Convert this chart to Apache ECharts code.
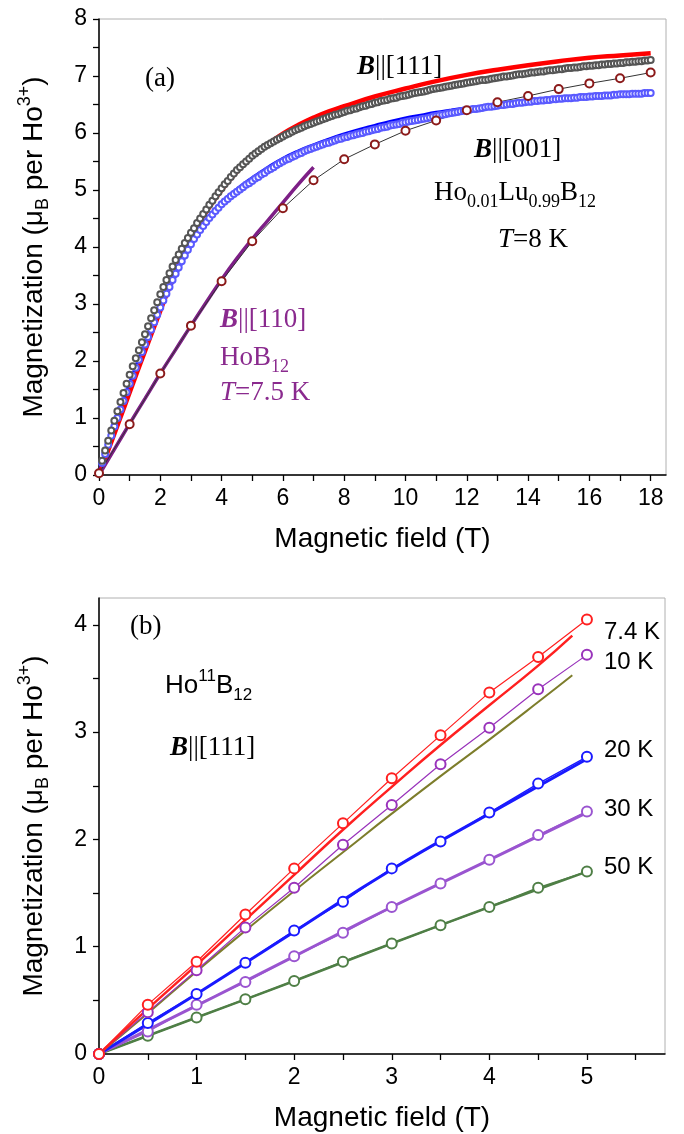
<!DOCTYPE html>
<html>
<head>
<meta charset="utf-8">
<script src="https://cdn.jsdelivr.net/npm/echarts@6/dist/echarts.min.js"></script>
<style>
  html, body { margin: 0; padding: 0; background: #fff; }
  #main { width: 684px; height: 1134px; }
</style>
</head>
<body>
<div id="main"></div>
<script>
// ---- panel (a): Ho0.01Lu0.99B12 at 8 K and HoB12 at 7.5 K ----
var fieldA = [
  0.1, 0.2, 0.3, 0.4, 0.5, 0.6, 0.7, 0.8, 0.9, 1.0,
  1.1, 1.2, 1.3, 1.4, 1.5, 1.6, 1.7, 1.8, 1.9, 2.0,
  2.1, 2.2, 2.3, 2.4, 2.5, 2.6, 2.7, 2.8, 2.9, 3.0,
  3.1, 3.2, 3.3, 3.4, 3.5, 3.6, 3.7, 3.8, 3.9, 4.0,
  4.1, 4.2, 4.3, 4.4, 4.5, 4.6, 4.7, 4.8, 4.9, 5.0,
  5.1, 5.2, 5.3, 5.4, 5.5, 5.6, 5.7, 5.8, 5.9, 6.0,
  6.1, 6.2, 6.3, 6.4, 6.5, 6.6, 6.7, 6.8, 6.9, 7.0,
  7.1, 7.2, 7.3, 7.4, 7.5, 7.6, 7.7, 7.8, 7.9, 8.0,
  8.1, 8.2, 8.3, 8.4, 8.5, 8.6, 8.7, 8.8, 8.9, 9.0,
  9.1, 9.2, 9.3, 9.4, 9.5, 9.6, 9.7, 9.8, 9.9, 10.0,
  10.1, 10.2, 10.3, 10.4, 10.5, 10.6, 10.7, 10.8, 10.9, 11.0,
  11.1, 11.2, 11.3, 11.4, 11.5, 11.6, 11.7, 11.8, 11.9, 12.0,
  12.1, 12.2, 12.3, 12.4, 12.5, 12.6, 12.7, 12.8, 12.9, 13.0,
  13.1, 13.2, 13.3, 13.4, 13.5, 13.6, 13.7, 13.8, 13.9, 14.0,
  14.1, 14.2, 14.3, 14.4, 14.5, 14.6, 14.7, 14.8, 14.9, 15.0,
  15.1, 15.2, 15.3, 15.4, 15.5, 15.6, 15.7, 15.8, 15.9, 16.0,
  16.1, 16.2, 16.3, 16.4, 16.5, 16.6, 16.7, 16.8, 16.9, 17.0,
  17.1, 17.2, 17.3, 17.4, 17.5, 17.6, 17.7, 17.8, 17.9, 18.0
];
// B || [111], open black circles
var mag111 = [
  0.25, 0.43, 0.60, 0.78, 0.95, 1.12, 1.28, 1.44, 1.60, 1.76,
  1.91, 2.05, 2.19, 2.33, 2.47, 2.61, 2.75, 2.89, 3.03, 3.17,
  3.30, 3.42, 3.54, 3.66, 3.77, 3.87, 3.97, 4.07, 4.16, 4.25,
  4.33, 4.42, 4.50, 4.58, 4.66, 4.74, 4.81, 4.89, 4.96, 5.03,
  5.10, 5.16, 5.23, 5.29, 5.35, 5.40, 5.45, 5.50, 5.55, 5.60,
  5.64, 5.68, 5.72, 5.76, 5.79, 5.82, 5.85, 5.88, 5.91, 5.94,
  5.97, 5.99, 6.02, 6.05, 6.07, 6.09, 6.12, 6.14, 6.16, 6.18,
  6.20, 6.22, 6.24, 6.26, 6.28, 6.30, 6.32, 6.33, 6.35, 6.37,
  6.39, 6.40, 6.42, 6.43, 6.45, 6.47, 6.48, 6.50, 6.51, 6.53,
  6.54, 6.56, 6.57, 6.58, 6.60, 6.61, 6.62, 6.64, 6.65, 6.66,
  6.67, 6.69, 6.70, 6.71, 6.72, 6.73, 6.74, 6.76, 6.77, 6.78,
  6.79, 6.80, 6.81, 6.82, 6.83, 6.84, 6.85, 6.86, 6.87, 6.88,
  6.89, 6.90, 6.91, 6.92, 6.93, 6.93, 6.94, 6.95, 6.96, 6.97,
  6.98, 6.99, 6.99, 7.00, 7.01, 7.02, 7.03, 7.03, 7.04, 7.05,
  7.06, 7.06, 7.07, 7.08, 7.08, 7.09, 7.10, 7.10, 7.11, 7.12,
  7.12, 7.13, 7.14, 7.14, 7.15, 7.15, 7.16, 7.17, 7.17, 7.18,
  7.18, 7.19, 7.19, 7.20, 7.20, 7.21, 7.21, 7.22, 7.22, 7.23,
  7.23, 7.24, 7.24, 7.25, 7.25, 7.26, 7.26, 7.27, 7.27, 7.28
];
// B || [001], open blue circles
var mag001 = [
  0.21, 0.37, 0.53, 0.69, 0.85, 1.00, 1.15, 1.30, 1.45, 1.60,
  1.74, 1.88, 2.02, 2.16, 2.29, 2.42, 2.55, 2.68, 2.81, 2.94,
  3.06, 3.18, 3.30, 3.42, 3.53, 3.64, 3.75, 3.85, 3.95, 4.05,
  4.14, 4.22, 4.30, 4.37, 4.44, 4.51, 4.57, 4.63, 4.69, 4.75,
  4.80, 4.84, 4.89, 4.93, 4.97, 5.01, 5.05, 5.09, 5.12, 5.16,
  5.20, 5.23, 5.27, 5.30, 5.34, 5.37, 5.40, 5.44, 5.47, 5.50,
  5.53, 5.55, 5.58, 5.60, 5.63, 5.65, 5.68, 5.70, 5.72, 5.74,
  5.76, 5.78, 5.80, 5.82, 5.83, 5.85, 5.87, 5.89, 5.90, 5.92,
  5.93, 5.95, 5.96, 5.98, 5.99, 6.00, 6.02, 6.03, 6.05, 6.06,
  6.07, 6.09, 6.10, 6.11, 6.13, 6.14, 6.15, 6.16, 6.18, 6.19,
  6.20, 6.21, 6.22, 6.23, 6.24, 6.25, 6.26, 6.27, 6.29, 6.30,
  6.31, 6.32, 6.33, 6.34, 6.35, 6.36, 6.37, 6.38, 6.39, 6.40,
  6.41, 6.42, 6.42, 6.43, 6.44, 6.45, 6.46, 6.46, 6.47, 6.48,
  6.49, 6.49, 6.50, 6.51, 6.51, 6.52, 6.53, 6.53, 6.54, 6.55,
  6.55, 6.56, 6.56, 6.57, 6.57, 6.58, 6.58, 6.59, 6.59, 6.60,
  6.60, 6.61, 6.61, 6.61, 6.62, 6.62, 6.63, 6.63, 6.63, 6.64,
  6.64, 6.65, 6.65, 6.65, 6.66, 6.66, 6.66, 6.67, 6.67, 6.68,
  6.68, 6.68, 6.68, 6.69, 6.69, 6.69, 6.69, 6.70, 6.70, 6.70
];
// calculated curves (solid lines)
var fitFieldA = [0, 0.5, 1, 1.5, 2, 2.5, 3, 3.5, 4, 4.5, 5, 5.5, 6, 6.5, 7, 7.5, 8, 9, 10, 11, 12, 13, 14, 15, 16, 17, 18];
var fit111 = [0, 0.72, 1.45, 2.17, 2.88, 3.57, 4.17, 4.62, 5.00, 5.32, 5.58, 5.80, 5.99, 6.14, 6.27, 6.38, 6.47, 6.64, 6.78, 6.91, 7.02, 7.11, 7.19, 7.26, 7.32, 7.36, 7.40];
var fit001Field = [0, 0.5, 1, 1.5, 2, 2.5, 3, 3.5, 4, 4.5, 5, 5.5, 6, 6.5, 7, 7.5, 8, 8.5, 9, 9.5, 10, 10.5, 11, 11.5, 12];
var fit001 = [0, 0.84, 1.58, 2.28, 2.92, 3.52, 4.04, 4.45, 4.77, 5.00, 5.20, 5.38, 5.54, 5.67, 5.78, 5.88, 5.97, 6.05, 6.12, 6.19, 6.25, 6.30, 6.35, 6.39, 6.43];
var fit110Field = [0, 0.5, 1, 1.5, 2, 2.5, 3, 3.5, 4, 4.5, 5, 5.5, 6, 6.5, 7];
var fit110 = [0, 0.45, 0.90, 1.34, 1.78, 2.20, 2.62, 3.03, 3.43, 3.80, 4.14, 4.46, 4.78, 5.10, 5.40];
// HoB12, B || [110], dark red circles
var hoField = [0, 1, 2, 3, 4, 5, 6, 7, 8, 9, 10, 11, 12, 13, 14, 15, 16, 17, 18];
var ho110 = [0.03, 0.89, 1.78, 2.62, 3.40, 4.10, 4.68, 5.17, 5.54, 5.80, 6.04, 6.22, 6.40, 6.54, 6.65, 6.77, 6.87, 6.96, 7.06];

// ---- panel (b): Ho11B12, B || [111] ----
var fieldB = [0, 0.5, 1, 1.5, 2, 2.5, 3, 3.5, 4, 4.5, 5];
var m7K = [0, 0.46, 0.86, 1.30, 1.73, 2.15, 2.57, 2.97, 3.37, 3.70, 4.05];
var m10K = [0, 0.39, 0.78, 1.18, 1.55, 1.95, 2.32, 2.70, 3.04, 3.40, 3.72];
var m20K = [0, 0.29, 0.56, 0.85, 1.15, 1.42, 1.73, 1.98, 2.25, 2.52, 2.77];
var m30K = [0, 0.21, 0.46, 0.67, 0.91, 1.13, 1.37, 1.59, 1.81, 2.04, 2.26];
var m50K = [0, 0.17, 0.34, 0.51, 0.68, 0.86, 1.03, 1.20, 1.37, 1.55, 1.70];
var fitBField = [0, 0.5, 1, 1.5, 2, 2.5, 3, 3.5, 4, 4.5, 4.85];
var fit7K = [0, 0.42, 0.83, 1.25, 1.67, 2.09, 2.49, 2.88, 3.25, 3.62, 3.90];
var fit10K = [0, 0.38, 0.77, 1.15, 1.52, 1.88, 2.24, 2.59, 2.93, 3.28, 3.53];
var fitB5Field = [0, 1, 2, 3, 4, 5];
var fit20K = [0, 0.56, 1.14, 1.72, 2.24, 2.75];
var fit30K = [0, 0.45, 0.91, 1.37, 1.81, 2.25];
var fit50K = [0, 0.34, 0.68, 1.03, 1.37, 1.70];

var tempLabels = ['7.4 K', '10 K', '20 K', '30 K', '50 K'];

// axis ticks and labels
var ticksXA = [0, 1, 2, 3, 4, 5, 6, 7, 8, 9, 10, 11, 12, 13, 14, 15, 16, 17, 18];
var labelsXA = [0, 2, 4, 6, 8, 10, 12, 14, 16, 18];
var ticksYA = [0, 0.5, 1, 1.5, 2, 2.5, 3, 3.5, 4, 4.5, 5, 5.5, 6, 6.5, 7, 7.5, 8];
var labelsYA = [0, 1, 2, 3, 4, 5, 6, 7, 8];
var ticksXB = [0, 0.5, 1, 1.5, 2, 2.5, 3, 3.5, 4, 4.5, 5, 5.5];
var labelsXB = [0, 1, 2, 3, 4, 5];
var ticksYB = [0, 0.5, 1, 1.5, 2, 2.5, 3, 3.5, 4];
var labelsYB = [0, 1, 2, 3, 4];

function pairs(xs, ys) {
    return xs.map(function (x, i) { return [x, ys[i]]; });
}

var SANS = 'Liberation Sans';
var SERIF = 'Liberation Serif';

var yTitleStyle = {
    fontFamily: SANS, fontSize: 28, color: '#000', lineHeight: 36,
    rich: {
        sub: { fontFamily: SANS, fontSize: 18, lineHeight: 18, verticalAlign: 'bottom', color: '#000' },
        sup: { fontFamily: SANS, fontSize: 18, lineHeight: 18, verticalAlign: 'top', color: '#000' }
    }
};

function xAxisCfg(idx, max, ticks, labels) {
    return {
        gridIndex: idx, type: 'value', min: 0, max: max,
        name: 'Magnetic field (T)', nameLocation: 'middle', nameGap: 50,
        nameTextStyle: { fontFamily: SANS, fontSize: 28, color: '#000' },
        axisLine: { show: true, onZero: false, lineStyle: { color: '#000', width: 1.5 } },
        axisTick: { show: true, inside: false, length: 6, customValues: ticks, lineStyle: { color: '#000', width: 1.3 } },
        axisLabel: { customValues: labels, fontFamily: SANS, fontSize: 23, color: '#000', margin: 12 },
        splitLine: { show: false }
    };
}

function yAxisCfg(idx, max, ticks, labels) {
    return {
        gridIndex: idx, type: 'value', min: 0, max: max,
        name: 'Magnetization (μ{sub|B} per Ho{sup|3+})', nameLocation: 'middle', nameGap: 47,
        nameRotate: 90,
        nameTextStyle: yTitleStyle,
        axisLine: { show: true, onZero: false, lineStyle: { color: '#000', width: 1.5 } },
        axisTick: { show: true, inside: false, length: 6, customValues: ticks, lineStyle: { color: '#000', width: 1.3 } },
        axisLabel: { customValues: labels, fontFamily: SANS, fontSize: 23, color: '#000', margin: 12 },
        splitLine: { show: false }
    };
}

function lineS(xi, data, color, width) {
    return {
        type: 'line', xAxisIndex: xi, yAxisIndex: xi, data: data, smooth: true,
        showSymbol: false, symbol: 'none', lineStyle: { color: color, width: width }
    };
}

function dotS(xi, data, color, size, lineColor, lineWidth) {
    return {
        type: 'line', xAxisIndex: xi, yAxisIndex: xi, data: data,
        symbol: 'emptyCircle', symbolSize: size, showSymbol: true,
        itemStyle: { color: color, borderColor: color, borderWidth: size > 8 ? 1.3 : 1 },
        lineStyle: { color: lineColor || color, width: lineWidth || 0, opacity: lineWidth ? 1 : 0 }
    };
}

function txt(x, y, text, font, color, rich) {
    return {
        type: 'text', x: x, y: y, z: 100,
        style: { text: text, font: font, fill: color, verticalAlign: 'middle', align: 'left', rich: rich || {} }
    };
}

var serif27 = '27px "' + SERIF + '"';
var purple = '#8a2a8e';
var richBI = function (c) {
    return { bi: { fontFamily: SERIF, fontSize: 27, fontStyle: 'italic', fontWeight: 'bold', fill: c, color: c } };
};
var richSub = function (c, fam, size, sub) {
    return {
        s: { fontFamily: fam, fontSize: sub, lineHeight: sub, verticalAlign: 'bottom', fill: c, color: c },
        p: { fontFamily: fam, fontSize: sub, lineHeight: sub, verticalAlign: 'top', fill: c, color: c },
        n: { fontFamily: fam, fontSize: size, lineHeight: size + 10, fill: c, color: c }
    };
};
var richIt = function (c) {
    return { i: { fontFamily: SERIF, fontSize: 27, fontStyle: 'italic', fill: c, color: c } };
};

var chart = echarts.init(document.getElementById('main'), null, { renderer: 'canvas' });

var option = {
    backgroundColor: '#fff',
    animation: false,
    grid: [
        { left: 99, top: 19, width: 567, height: 456, show: true, borderColor: '#b0b0b0', borderWidth: 1, backgroundColor: 'transparent' },
        { left: 99, top: 598, width: 566, height: 456, show: true, borderColor: '#b0b0b0', borderWidth: 1, backgroundColor: 'transparent' }
    ],
    xAxis: [
        xAxisCfg(0, 18.5, ticksXA, labelsXA),
        xAxisCfg(1, 5.8, ticksXB, labelsXB)
    ],
    yAxis: [
        yAxisCfg(0, 8, ticksYA, labelsYA),
        yAxisCfg(1, 4.25, ticksYB, labelsYB)
    ],
    series: [
        // panel (a)
        dotS(0, pairs(fieldA, mag001), '#5a5aff', 6),
        lineS(0, pairs(fit001Field, fit001), '#0000ff', 4.5),
        dotS(0, pairs(fieldA, mag111), '#555555', 6),
        lineS(0, pairs(fitFieldA, fit111), '#ff0000', 4.5),
        lineS(0, pairs(fit110Field, fit110), '#7d1f86', 3.5),
        dotS(0, pairs(hoField, ho110), '#8b1a1a', 8, '#333333', 1),
        // panel (b)
        lineS(1, pairs(fitB5Field, fit50K), '#4f7f46', 2.5),
        dotS(1, pairs(fieldB, m50K), '#4f7f46', 10, '#4f7f46', 1.5),
        lineS(1, pairs(fitB5Field, fit30K), '#9a55d0', 3),
        dotS(1, pairs(fieldB, m30K), '#9a55d0', 10, '#9a55d0', 1.5),
        lineS(1, pairs(fitB5Field, fit20K), '#1a1aff', 3),
        dotS(1, pairs(fieldB, m20K), '#1a1aff', 10, '#1a1aff', 1.5),
        lineS(1, pairs(fitBField, fit10K), '#7d7d2b', 2),
        dotS(1, pairs(fieldB, m10K), '#9933bb', 10, '#9933bb', 1.2),
        lineS(1, pairs(fitBField, fit7K), '#ff2020', 2.5),
        dotS(1, pairs(fieldB, m7K), '#ff2020', 10, '#ff2020', 1.2)
    ],
    graphic: [
        // panel (a) annotations
        txt(145, 79, '(a)', serif27, '#000'),
        txt(357, 67, '{bi|B}||[111]', serif27, '#000', richBI('#000')),
        txt(474, 150, '{bi|B}||[001]', serif27, '#000', richBI('#000')),
        txt(434, 193, '{n|Ho}{s|0.01}{n|Lu}{s|0.99}{n|B}{s|12}', serif27, '#000', richSub('#000', SERIF, 27, 18)),
        txt(498, 240, '{i|T}=8 K', serif27, '#000', richIt('#000')),
        txt(220, 320, '{bi|B}||[110]', serif27, purple, richBI(purple)),
        txt(220, 358, '{n|HoB}{s|12}', serif27, purple, richSub(purple, SERIF, 27, 18)),
        txt(220, 393, '{i|T}=7.5 K', serif27, purple, richIt(purple)),
        // panel (b) annotations
        txt(130, 627, '(b)', serif27, '#000'),
        txt(165, 686, '{n|Ho}{p|11}{n|B}{s|12}', '26px "' + SANS + '"', '#000', richSub('#000', SANS, 26, 17)),
        txt(170, 748, '{bi|B}||[111]', serif27, '#000', richBI('#000')),
        txt(604, 632, tempLabels[0], '24px "' + SANS + '"', '#000'),
        txt(604, 662, tempLabels[1], '24px "' + SANS + '"', '#000'),
        txt(604, 750, tempLabels[2], '24px "' + SANS + '"', '#000'),
        txt(604, 809, tempLabels[3], '24px "' + SANS + '"', '#000'),
        txt(604, 867, tempLabels[4], '24px "' + SANS + '"', '#000')
    ]
};

chart.setOption(option);
</script>
</body>
</html>
